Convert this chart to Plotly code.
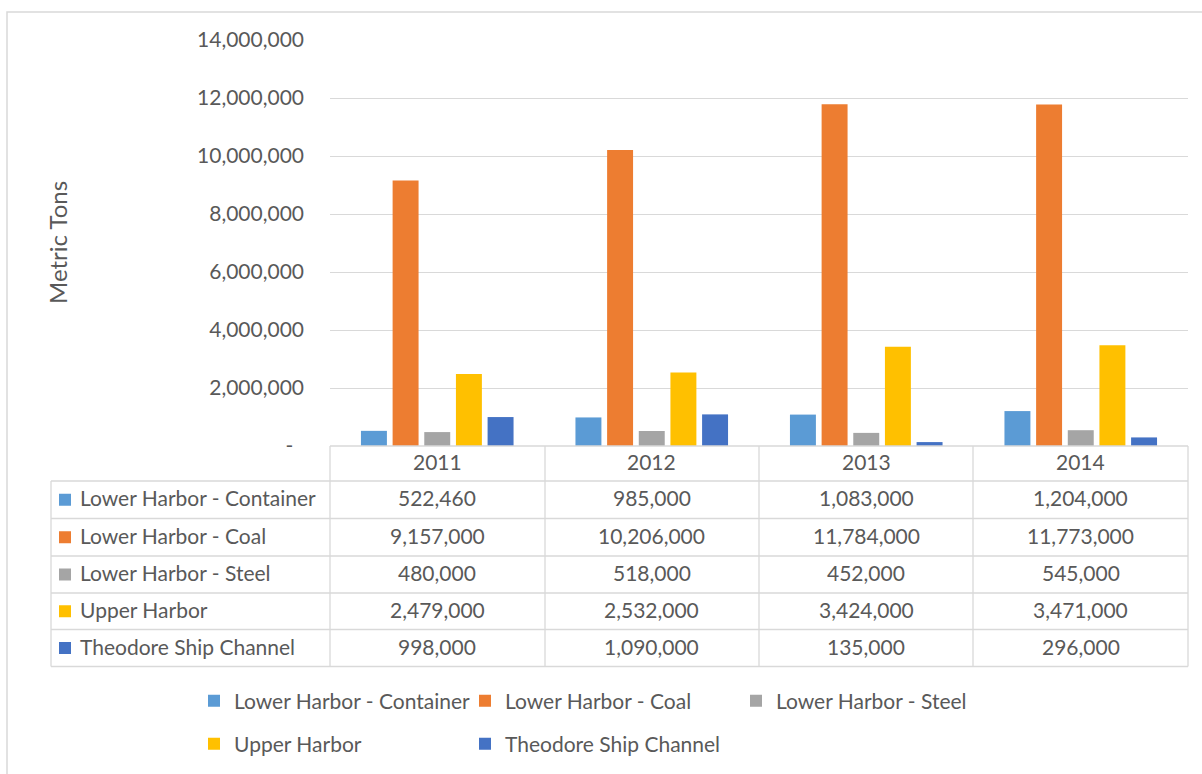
import plotly.graph_objects as go

# ---------------- data ----------------
years = ["2011", "2012", "2013", "2014"]
series_names = [
    "Lower Harbor - Container",
    "Lower Harbor - Coal",
    "Lower Harbor - Steel",
    "Upper Harbor",
    "Theodore Ship Channel",
]
container = [522460, 985000, 1083000, 1204000]
coal = [9157000, 10206000, 11784000, 11773000]
steel = [480000, 518000, 452000, 545000]
upper = [2479000, 2532000, 3424000, 3471000]
theodore = [998000, 1090000, 135000, 296000]
series_values = [container, coal, steel, upper, theodore]
colors = ["#5B9BD5", "#ED7D31", "#A5A5A5", "#FFC000", "#4472C4"]
y_tick_values = [0, 2000000, 4000000, 6000000, 8000000, 10000000, 12000000, 14000000]
y_tick_labels = ["-\u00a0\u00a0", "2,000,000", "4,000,000", "6,000,000", "8,000,000",
                 "10,000,000", "12,000,000", "14,000,000"]
y_title = "Metric Tons"

# ---------------- layout helpers ----------------
W, H = 1202, 774
FONT = "Lato"
TXT = "#595959"
GRID = "#D9D9D9"
FS = 21


def px(x):
    return x / W


def py(y):
    return 1 - y / H


plot_l, plot_r, plot_t, plot_b = 330, 1188, 40, 446
col_lines = [51, 330, 545, 759, 973, 1188]
row_lines = [446, 481, 518.5, 556, 593, 629.5, 666.5]
TEXT_SHIFT = 2

fig = go.Figure()
for i, (name, vals) in enumerate(zip(series_names, series_values)):
    fig.add_trace(go.Bar(
        x=years, y=vals, name=name,
        marker=dict(color=colors[i], line=dict(width=0)),
        legend="legend" if i < 3 else "legend2",
    ))

shapes = []
# outer chart border
shapes.append(dict(type="rect", xref="paper", yref="paper",
                   x0=px(7), x1=px(1215), y0=py(12), y1=py(790),
                   line=dict(color=GRID, width=1.5), fillcolor="rgba(0,0,0,0)"))
# table horizontal lines
for k, yl in enumerate(row_lines):
    x0 = plot_l if k == 0 else col_lines[0]
    shapes.append(dict(type="line", xref="paper", yref="paper",
                       x0=px(x0), x1=px(col_lines[-1]), y0=py(yl), y1=py(yl),
                       line=dict(color=GRID, width=1.3)))
# table vertical lines
for k, xl in enumerate(col_lines):
    y0 = row_lines[1] if k == 0 else row_lines[0]
    shapes.append(dict(type="line", xref="paper", yref="paper",
                       x0=px(xl), x1=px(xl), y0=py(y0), y1=py(row_lines[-1]),
                       line=dict(color=GRID, width=1.3)))

annotations = []
# y axis title
annotations.append(dict(text=y_title, xref="paper", yref="paper",
                        x=px(57), y=py(243), textangle=-90,
                        showarrow=False, xanchor="center", yanchor="middle",
                        font=dict(family=FONT, size=24, color=TXT)))
# header row with years (positioned on the category axis by index)
hc = (row_lines[0] + row_lines[1]) / 2
for j, yr in enumerate(years):
    annotations.append(dict(text=yr, xref="x", yref="paper", x=j, y=py(hc),
                            yshift=TEXT_SHIFT,
                            showarrow=False, xanchor="center", yanchor="middle",
                            font=dict(family=FONT, size=FS, color=TXT)))
# data rows
for i, (name, vals) in enumerate(zip(series_names, series_values)):
    c = (row_lines[i + 1] + row_lines[i + 2]) / 2
    shapes.append(dict(type="rect", xref="paper", yref="paper",
                       x0=px(59), x1=px(71), y0=py(c + 6), y1=py(c - 6),
                       line=dict(width=0), fillcolor=colors[i]))
    annotations.append(dict(text=name, xref="paper", yref="paper", x=px(78), y=py(c),
                            yshift=TEXT_SHIFT,
                            showarrow=False, xanchor="left", yanchor="middle",
                            font=dict(family=FONT, size=FS, color=TXT)))
    for j, v in enumerate(vals):
        annotations.append(dict(text=f"{v:,}", xref="x", yref="paper", x=j, y=py(c),
                                yshift=TEXT_SHIFT,
                                showarrow=False, xanchor="center", yanchor="middle",
                                font=dict(family=FONT, size=FS, color=TXT)))

legend_common = dict(orientation="h", xanchor="left", yanchor="middle",
                     entrywidth=226, entrywidthmode="pixels",
                     font=dict(family=FONT, size=FS, color=TXT),
                     bgcolor="rgba(0,0,0,0)", borderwidth=0,
                     traceorder="normal")

fig.update_layout(
    width=W, height=H,
    margin=dict(l=0, r=0, t=0, b=0, autoexpand=False),
    paper_bgcolor="white", plot_bgcolor="white",
    font=dict(family=FONT, size=FS, color=TXT),
    barmode="group", bargap=0.262, bargroupgap=0.18,
    xaxis=dict(type="category", categoryorder="array", categoryarray=years,
               range=[-0.5, len(years) - 0.5],
               domain=[px(plot_l), px(plot_r)], showticklabels=False,
               showgrid=False, zeroline=False, showline=False, ticks="",
               automargin=False),
    yaxis=dict(domain=[py(plot_b), py(plot_t)], range=[0, 14000000],
               tickvals=y_tick_values, ticktext=y_tick_labels,
               showgrid=True, gridcolor=GRID, gridwidth=1,
               zeroline=False, showline=False, ticks="",
               ticklabelstandoff=25, automargin=False,
               tickfont=dict(family=FONT, size=FS, color=TXT)),
    legend=dict(x=px(194), y=py(701), **legend_common),
    legend2=dict(x=px(194), y=py(744), **legend_common),
    showlegend=True,
    shapes=shapes,
    annotations=annotations,
)

fig.write_html("out.html")
